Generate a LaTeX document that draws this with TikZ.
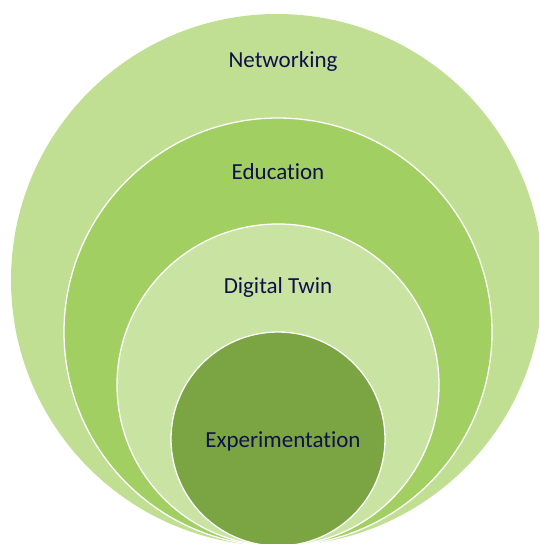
\documentclass[tikz,border=0pt]{standalone}
\usepackage{fontspec}
\setmainfont[RawFeature={-liga}]{Carlito}
\definecolor{netgreen}{HTML}{C0DF93}
\definecolor{edugreen}{HTML}{A2CF62}
\definecolor{twingreen}{HTML}{C9E3A2}
\definecolor{expgreen}{HTML}{7BA542}
\definecolor{navy}{HTML}{10104A}
\tikzstyle{ring}=[circle,draw=white,line width=1.3pt,inner sep=0pt]
\tikzstyle{ringtext}=[text=navy,font=\fontsize{23}{27}\selectfont]

\begin{document}
\begin{tikzpicture}[x=1pt,y=-1pt]
  \useasboundingbox[fill=white] (0,0) rectangle (539,544);
  \begin{scope}
  \clip (0,0) rectangle (539,544);
  \node[ring,fill=netgreen,draw=none,minimum size=532pt] (net) at (277,280) {};
  \node[ring,fill=edugreen,minimum size=428pt] (edu) at (278,332) {};
  \node[ring,fill=twingreen,minimum size=322pt] (twin) at (278,385) {};
  \node[ring,fill=expgreen,minimum size=214pt] (exp) at (278,439) {};
  \end{scope}

  \node[ringtext] (tnet) at (283,61) {Networking};
  \node[ringtext] (tedu) at (278,172) {Education};
  \node[ringtext] (ttwin) at (278,287) {Digital Twin};
  \node[ringtext] (texp) at (283,441) {Experimentation};
\end{tikzpicture}
\end{document}
